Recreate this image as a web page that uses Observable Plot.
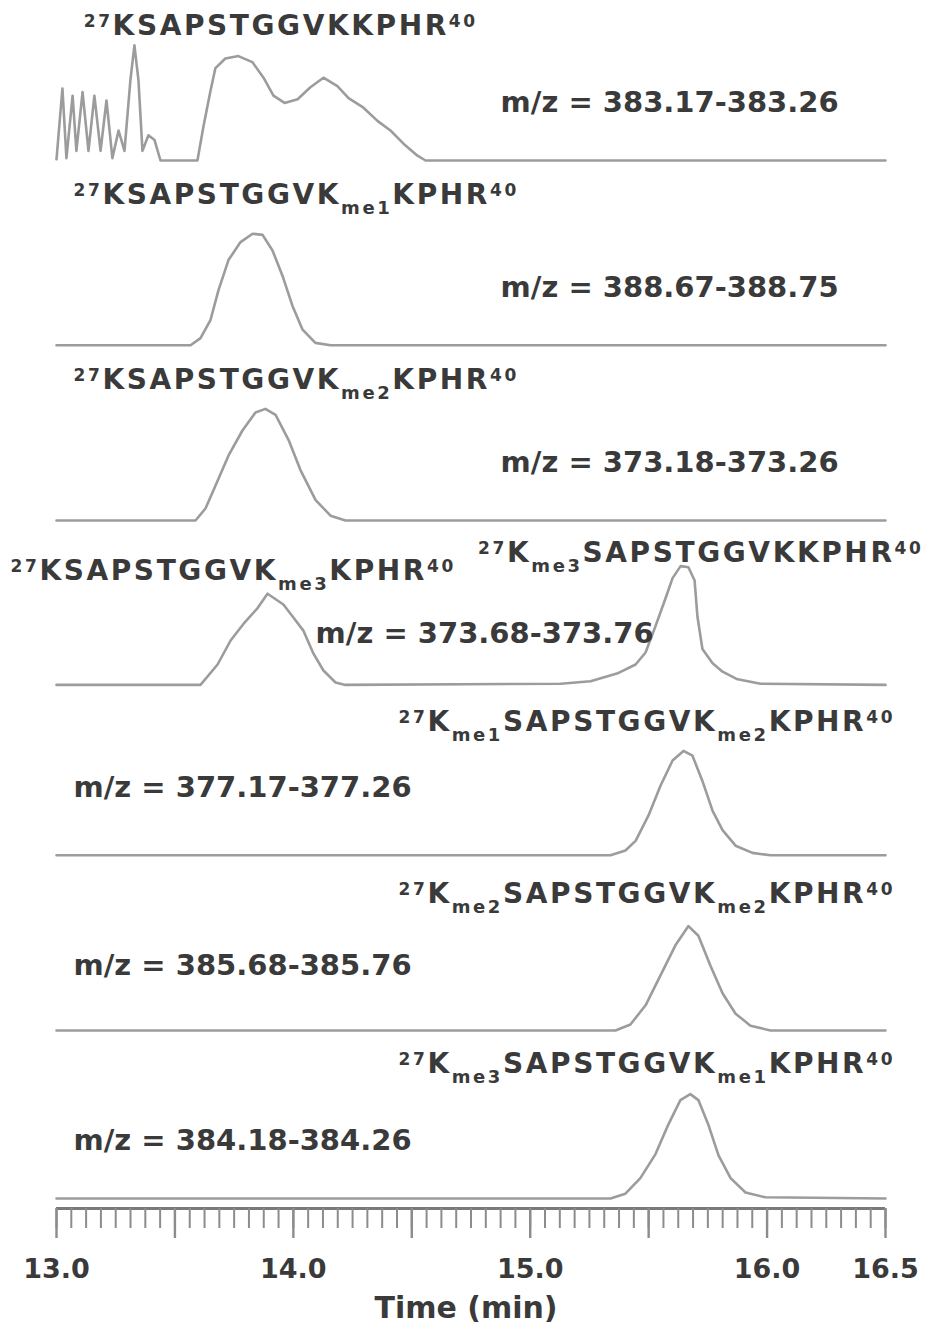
<!DOCTYPE html>
<html><head><meta charset="utf-8">
<script src="https://cdn.jsdelivr.net/npm/d3@7"></script>
<script src="https://cdn.jsdelivr.net/npm/@observablehq/plot@0.6"></script>
<style>body{margin:0;background:#fff} svg{display:block}</style>
</head><body><div id="chart"></div>
<script>
// ---- data: retention time (min) and relative intensity per extracted-ion chromatogram ----
const p1T = [13.000,13.025,13.042,13.068,13.084,13.110,13.135,13.160,13.186,13.211,13.236,13.262,13.287,13.312,13.329,13.346,13.363,13.388,13.414,13.439,13.595,13.621,13.650,13.671,13.713,13.768,13.827,13.874,13.916,13.963,14.018,14.072,14.127,14.186,14.233,14.296,14.355,14.410,14.465,14.524,14.558,16.5];
const p1V = [1,60,2,54,8,57,8,54,8,50,2,25,8,67,96,67,8,21,17,0,0,29,58,77,85,87,82,69,54,48,51,61,69,62,52,44,33,25,14,4,0,0];
const p2T = [13.000,13.566,13.608,13.650,13.684,13.726,13.777,13.828,13.870,13.912,13.954,13.996,14.039,14.093,14.157,16.5];
const p2V = [0,0,6,21,46,71,86,93,92,79,58,33,13,2,0,0];
const p3T = [13.000,13.587,13.629,13.671,13.726,13.785,13.840,13.882,13.925,13.980,14.030,14.094,14.157,14.220,16.5];
const p3V = [0,0,10,29,54,75,90,93,88,67,42,17,4,0,0];
const p4T = [13.000,13.608,13.680,13.735,13.790,13.849,13.891,13.958,14.001,14.043,14.085,14.127,14.178,14.220,15.128,15.255,15.373,15.445,15.487,15.529,15.571,15.601,15.635,15.668,15.694,15.706,15.727,15.770,15.812,15.871,15.972,16.5];
const p4V = [0,0,17,37,51,64,76,67,56,45,26,12,2,0,1,3,10,17,27,49,72,89,99,98,87,57,30,18,11,5,1,0];
const p5T = [13.000,15.339,15.402,15.445,15.499,15.550,15.601,15.647,15.685,15.727,15.770,15.812,15.867,15.938,16.014,16.5];
const p5V = [0,0,4,12,33,58,79,87,83,62,37,21,8,2,0,0];
const p6T = [13.000,15.360,15.423,15.487,15.550,15.613,15.668,15.710,15.761,15.812,15.867,15.930,16.014,16.5];
const p6V = [0,0,5,21,46,71,87,79,54,31,14,4,0,0];
const p7T = [13.000,15.339,15.402,15.465,15.529,15.584,15.634,15.676,15.710,15.753,15.795,15.846,15.909,15.993,16.5];
const p7V = [0,0,4,17,37,62,82,87,82,61,36,17,5,1,0];

// m/z windows (one per trace)
const mzLabels = ["m/z = 383.17-383.26","m/z = 388.67-388.75","m/z = 373.18-373.26","m/z = 373.68-373.76","m/z = 377.17-377.26","m/z = 385.68-385.76","m/z = 384.18-384.26"];
const mzTime  = [14.875,14.875,14.875,14.094,13.072,13.072,13.072];
const mzLevel = [48,48,48,43,56,54,48];

// peptide annotations (^..^ superscript, _.._ subscript)
const pepLabels = ["^27^KSAPSTGGVKKPHR^40^","^27^KSAPSTGGVK_me1_KPHR^40^","^27^KSAPSTGGVK_me2_KPHR^40^","^27^KSAPSTGGVK_me3_KPHR^40^","^27^K_me3_SAPSTGGVKKPHR^40^","^27^K_me1_SAPSTGGVK_me2_KPHR^40^","^27^K_me2_SAPSTGGVK_me2_KPHR^40^","^27^K_me3_SAPSTGGVK_me1_KPHR^40^"];
const pepPanel = [0,1,2,3,3,4,5,6];
const pepTime  = [13.115,13.072,13.072,12.806,14.780,14.444,14.444,14.444];
const pepLevel = [112,125,117,95,110,111,114,112];

// x-axis ticks
const majorTicks = [13,13.5,14,14.5,15,15.5,16,16.5];
const labelledTicks = [13,14,15,16,16.5];
const minorTicks = d3.range(0, 57).map(i => 13 + i * 0.0625);

// ---- layout: vertical stacking offset of each trace ----
const panelOffsets = [865, 711, 565, 428, 286, 140, 0];

const traces = [[p1T,p1V],[p2T,p2V],[p3T,p3V],[p4T,p4V],[p5T,p5V],[p6T,p6V],[p7T,p7V]];
const rows = traces.flatMap(([T,V], i) => T.map((t, j) => ({panel: i, t, v: V[j]})));
const mzRows = mzLabels.map((s, i) => ({s, t: mzTime[i], y: panelOffsets[i] + mzLevel[i]}));
const pepRows = pepLabels.map((s, i) => ({s, t: pepTime[i], y: panelOffsets[pepPanel[i]] + pepLevel[i]}));

const yMin = -8.33;
const plot = Plot.plot({
  width: 927, height: 1334,
  marginLeft: 56, marginRight: 42, marginTop: 0, marginBottom: 126,
  x: {domain: [13, 16.5], label: null},
  y: {domain: [yMin, 998.33], axis: null, label: null},
  style: {fontFamily: "'DejaVu Sans', sans-serif", background: "#fff", overflow: "visible"},
  marks: [
    Plot.line(rows, {x: "t", y: d => panelOffsets[d.panel] + d.v, z: "panel", stroke: "#9c9c9c", strokeWidth: 2.6, strokeLinejoin: "round"}),
    Plot.ruleY([yMin], {stroke: "#7a7a7a", strokeWidth: 3}),
    Plot.axisX({ticks: minorTicks, tickSize: 20, tickFormat: () => "", stroke: "#8c8c8c", strokeWidth: 2, label: null}),
    Plot.axisX({ticks: majorTicks, tickSize: 30, tickPadding: 20, stroke: "#8c8c8c", strokeWidth: 2.4,
      tickFormat: d => labelledTicks.includes(d) ? d.toFixed(1) : "",
      fontSize: 27, fontWeight: "bold", fill: "#3a3a3a", label: null}),
    Plot.text(["Time (min)"], {frameAnchor: "bottom", dy: 109, dx: -5, fontSize: 30, fontWeight: "bold", fill: "#3a3a3a"}),
    Plot.text(mzRows, {x: "t", y: "y", text: "s", textAnchor: "start", fontSize: 29, fontWeight: "bold", fill: "#3a3a3a"}),
    Plot.text(pepRows, {x: "t", y: "y", text: "s", textAnchor: "start", fontSize: 28, fontWeight: "bold", fill: "#3a3a3a"})
  ]
});

// render ^sup^ and _sub_ markup as tspans
d3.select(plot).selectAll("text").filter(function() { return /\^/.test(this.textContent); }).each(function() {
  const s = this.textContent;
  const sel = d3.select(this).attr("letter-spacing", "2.6px");
  sel.text("");
  const re = /\^([^^]*)\^|_([^_]*)_|([^^_]+)/g;
  let m;
  while ((m = re.exec(s))) {
    if (m[1] !== undefined) sel.append("tspan").attr("font-size", "17px").attr("baseline-shift", "8px").text(m[1]);
    else if (m[2] !== undefined) sel.append("tspan").attr("font-size", "18px").attr("baseline-shift", "-10px").text(m[2]);
    else sel.append("tspan").text(m[3]);
  }
});

document.getElementById("chart").appendChild(plot);
</script>
</body></html>
